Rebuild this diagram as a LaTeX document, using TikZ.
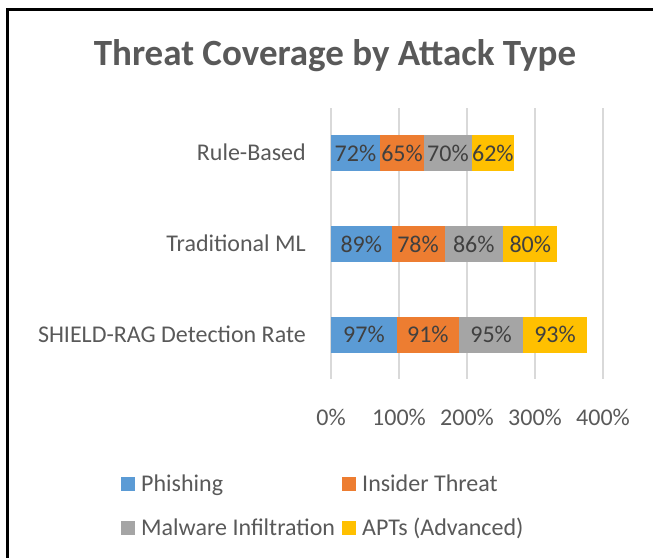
\documentclass[tikz,border=0pt]{standalone}
\usepackage{fontspec}
\setmainfont{Carlito}
\usetikzlibrary{positioning}
\definecolor{phish}{HTML}{5B9BD5}
\definecolor{insider}{HTML}{ED7D31}
\definecolor{malware}{HTML}{A5A5A5}
\definecolor{apt}{HTML}{FFC000}
\definecolor{txt}{HTML}{595959}
\definecolor{valtxt}{HTML}{404040}
\definecolor{grid}{HTML}{D9D9D9}
\tikzset{lbl/.style={font=\fontsize{24}{28}\selectfont,inner sep=0pt},
         cat/.style={lbl,anchor=base east,text=txt},
         val/.style={lbl,anchor=base,text=valtxt},
         tick/.style={lbl,anchor=base,text=txt},
         key/.style={minimum size=14pt,inner sep=0pt},
         keytext/.style={lbl,anchor=base west,text=txt}}

\begin{document}
\begin{tikzpicture}[x=1pt,y=-1pt]
  \useasboundingbox (0,0) rectangle (653,558);
  \draw[line width=2.5pt] (653,9.5) -- (7.5,9.5) -- (7.5,558);
  \node[anchor=base,text=txt,font=\bfseries\fontsize{37}{42}\selectfont,inner sep=0pt] (title) at (335,65) {Threat Coverage by Attack Type};
  % grid and ticks
  \foreach \k in {0,...,4}{
    \draw[grid,line width=1.5pt] (331+68*\k,108) -- (331+68*\k,379);
    \pgfmathtruncatemacro{\pc}{100*\k}
    \node[tick] (tick\k) at (331+68*\k,425) {\pc\%};
  }
  % bars
  \foreach \row/\yy/\a/\b/\c/\d in {rb/153/72/65/70/62,ml/244/89/78/86/80,sr/334.5/97/91/95/93}{
    \pgfmathsetmacro{\xa}{331+0.68*\a}
    \pgfmathsetmacro{\xb}{\xa+0.68*\b}
    \pgfmathsetmacro{\xc}{\xb+0.68*\c}
    \pgfmathsetmacro{\xd}{\xc+0.68*\d}
    \fill[phish] (331,\yy-18) rectangle (\xa,\yy+18);
    \fill[insider] (\xa,\yy-18) rectangle (\xb,\yy+18);
    \fill[malware] (\xb,\yy-18) rectangle (\xc,\yy+18);
    \fill[apt] (\xc,\yy-18) rectangle (\xd,\yy+18);
    \node[val] (\row-a) at ({(331+\xa)/2},\yy+8) {\a\%};
    \node[val] (\row-b) at ({(\xa+\xb)/2},\yy+8) {\b\%};
    \node[val] (\row-c) at ({(\xb+\xc)/2},\yy+8) {\c\%};
    \node[val] (\row-d) at ({(\xc+\xd)/2},\yy+8) {\d\%};
  }
  \node[cat] (rb) at (306,160.5) {Rule-Based};
  \node[cat] (ml) at (306,251.5) {Traditional ML};
  \node[cat] (sr) at (306,342) {SHIELD-RAG Detection Rate};
  % legend
  \node[key,fill=phish] (k1) at (128,484) {};
  \node[keytext] (l1) at (141,491.7) {Phishing};
  \node[key,fill=insider] (k2) at (349,484) {};
  \node[keytext] (l2) at (362,491.7) {Insider Threat};
  \node[key,fill=malware] (k3) at (128,528) {};
  \node[keytext] (l3) at (141,535.7) {Malware Infiltration};
  \node[key,fill=apt] (k4) at (349,528) {};
  \node[keytext] (l4) at (362,535.7) {APTs (Advanced)};
\end{tikzpicture}
\end{document}
